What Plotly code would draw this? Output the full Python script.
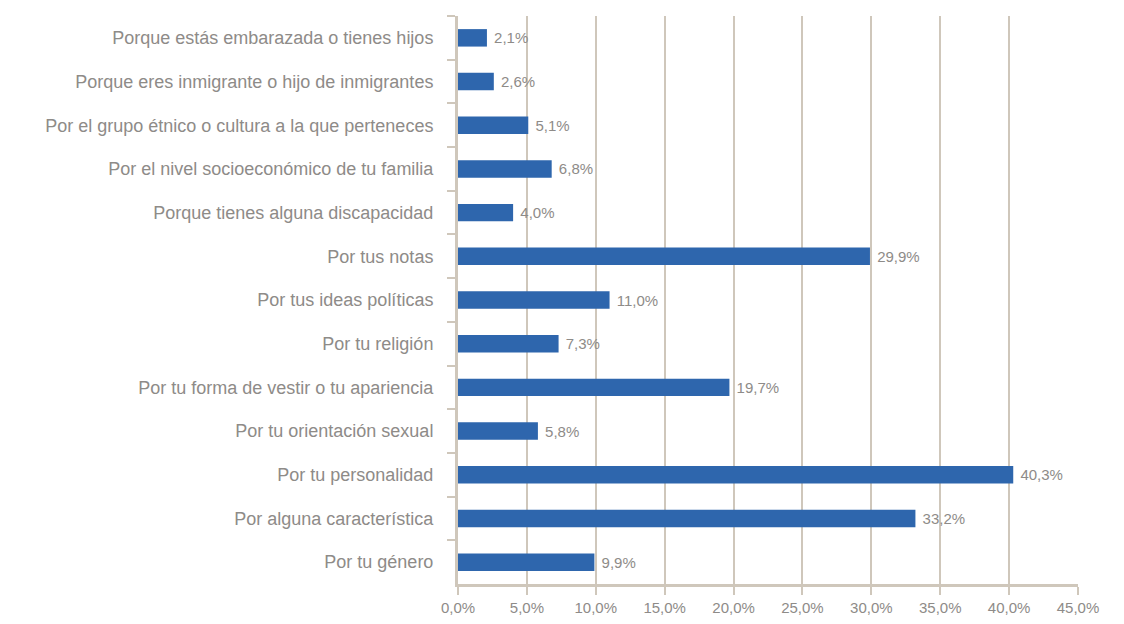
"""
Horizontal bar chart: reasons for discrimination (percent of respondents).
"""

import plotly.graph_objects as go


# --- Data ---
categories = [
    "Porque estás embarazada o tienes hijos",
    "Porque eres inmigrante o hijo de inmigrantes",
    "Por el grupo étnico o cultura a la que perteneces",
    "Por el nivel socioeconómico de tu familia",
    "Porque tienes alguna discapacidad",
    "Por tus notas",
    "Por tus ideas políticas",
    "Por tu religión",
    "Por tu forma de vestir o tu apariencia",
    "Por tu orientación sexual",
    "Por tu personalidad",
    "Por alguna característica",
    "Por tu género",
]
percentages = [2.1, 2.6, 5.1, 6.8, 4.0, 29.9, 11.0, 7.3, 19.7, 5.8, 40.3, 33.2, 9.9]
tick_values = [0, 5, 10, 15, 20, 25, 30, 35, 40, 45]
tick_labels = ["0,0%", "5,0%", "10,0%", "15,0%", "20,0%", "25,0%", "30,0%", "35,0%", "40,0%", "45,0%"]


# --- Styling ---
BAR_BLUE = "#2e66ad"
AXIS_TAN = "#cfc7bb"
TEXT_GRAY = "#8e8b88"
FONT = "Liberation Sans, Arial, sans-serif"


figure = go.Figure(
    go.Bar(
        x = percentages,
        y = categories,
        orientation = "h",
        marker = {"color": BAR_BLUE, "line": {"width": 0}},
        texttemplate = " %{x:.1f}%",
        textposition = "outside",
        textfont = {"family": FONT, "size": 15, "color": TEXT_GRAY},
        cliponaxis = False,
        hoverinfo = "skip",
    )
)

# the page body adds an 8px offset, so margins are trimmed to match
figure.update_layout(
    width = 1124,
    height = 624,
    separators = ",.",
    plot_bgcolor = "white",
    paper_bgcolor = "white",
    bargap = 0.6,
    showlegend = False,
    margin = {"l": 450, "r": 54, "t": 8, "b": 48},
    font = {"family": FONT, "color": TEXT_GRAY},
)

figure.update_xaxes(
    range = [0, 45],
    tickvals = tick_values,
    ticktext = tick_labels,
    tickfont = {"size": 15, "color": TEXT_GRAY},
    showgrid = True,
    gridcolor = AXIS_TAN,
    gridwidth = 2,
    showline = True,
    linecolor = AXIS_TAN,
    linewidth = 3,
    ticks = "outside",
    ticklen = 8,
    tickwidth = 2,
    tickcolor = AXIS_TAN,
    zeroline = False,
)

figure.update_yaxes(
    autorange = "reversed",
    tickson = "boundaries",
    ticks = "outside",
    ticklen = 8,
    tickwidth = 2,
    tickcolor = AXIS_TAN,
    showline = True,
    linecolor = AXIS_TAN,
    linewidth = 3,
    showgrid = False,
    tickfont = {"size": 18, "color": TEXT_GRAY},
    ticklabelstandoff = 18,
)

figure.write_html("out.html")
